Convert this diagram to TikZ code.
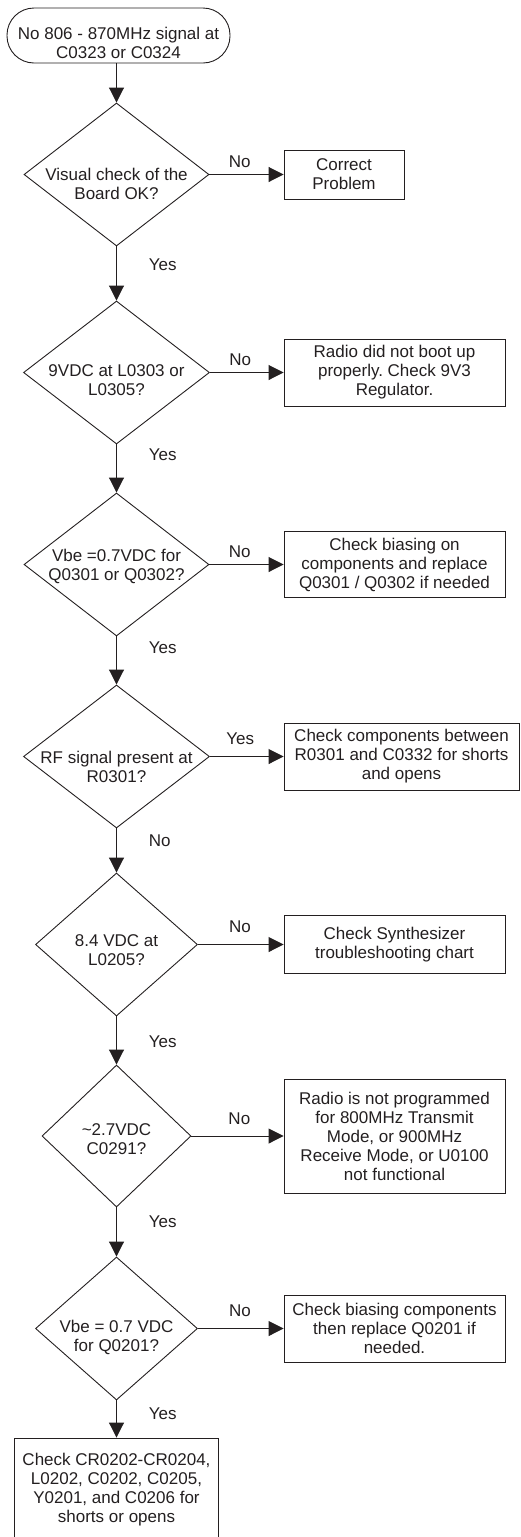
\documentclass[tikz,border=0pt]{standalone}
\usepackage{fontspec}
\setmainfont{Liberation Sans}
\usetikzlibrary{shapes.geometric,arrows.meta}
\definecolor{ink}{RGB}{35,31,32}
\newcommand{\dtx}[2]{\raisebox{#1}[0pt][0pt]{\makebox[0pt]{\begin{tabular}[b]{@{}c@{}}#2\end{tabular}}}}
\frenchspacing
\begin{document}
\begin{tikzpicture}[x=1pt,y=-1pt,
  font=\fontsize{17}{19}\selectfont\frenchspacing, text=ink,
  term/.style={rectangle, draw=ink, line width=0.9pt, rounded corners=27pt, inner sep=0pt},
  dia/.style={diamond, draw=ink, line width=0.9pt, inner sep=0pt, minimum height=143pt},
  box/.style={rectangle, draw=ink, line width=0.9pt, align=center, inner sep=2pt},
  arr/.style={draw=ink, line width=0.9pt, -{Triangle[length=15pt,width=15pt]}},
  hl/.style={anchor=base, inner sep=0pt},
  vl/.style={anchor=west, inner sep=0pt, xshift=32pt}]
\useasboundingbox (0,0) rectangle (520,1537);

\node[term, minimum width=223pt, minimum height=55pt] (start) at (118.5,35.5)
  {\dtx{-22.6pt}{No 806 - 870MHz signal at\\C0323 or C0324}};

\node[dia, minimum width=185pt] (d1) at (116.5,174.5) {\dtx{-25.1pt}{Visual check of the\\Board OK?}};
\node[box, minimum width=120pt, minimum height=49pt] (b1) at (344,174.5) {Correct\\Problem};

\node[dia, minimum width=186pt] (d2) at (116.5,372.5) {\dtx{-22.6pt}{9VDC at L0303 or\\L0305?}};
\node[box, minimum width=221pt, minimum height=67pt] (b2) at (394.5,372.5) {Radio did not boot up\\properly. Check 9V3\\Regulator.};

\node[dia, minimum width=185pt] (d3) at (116.5,564.5) {\dtx{-15.6pt}{Vbe =0.7VDC for\\Q0301 or Q0302?}};
\node[box, minimum width=221pt, minimum height=66pt] (b3) at (394.5,564.5) {Check biasing on\\components and replace\\Q0301 / Q0302 if needed};

\node[dia, minimum width=186pt] (d4) at (116.5,756.5) {\dtx{-25.6pt}{RF signal present at\\R0301?}};
\node[box, minimum width=235pt, minimum height=67pt] (b4) at (401.5,756.5) {Check components between\\R0301 and C0332 for shorts\\and opens};

\node[dia, minimum width=162pt] (d5) at (116.5,944.5) {\dtx{-20.6pt}{8.4 VDC at\\L0205?}};
\node[box, minimum width=221pt, minimum height=58pt] (b5) at (394.5,944.5) {Check Synthesizer\\troubleshooting chart};

\node[dia, minimum width=149pt, minimum height=142pt] (d6) at (116.5,1136) {\dtx{-18.6pt}{\textasciitilde 2.7VDC\\C0291?}};
\node[box, minimum width=221pt, minimum height=114pt] (b6) at (394.5,1136) {Radio is not programmed\\for 800MHz Transmit\\Mode, or 900MHz\\Receive Mode, or U0100\\not functional};

\node[dia, minimum width=162pt] (d7) at (116.5,1328.5) {\dtx{-22.6pt}{Vbe = 0.7 VDC\\for Q0201?}};
\node[box, minimum width=221pt, minimum height=67pt] (b7) at (394.5,1328.5) {Check biasing components\\then replace Q0201 if\\needed.};

\node[box, minimum width=204pt, minimum height=104pt] (fin) at (116.5,1490) {Check CR0202-CR0204,\\L0202, C0202, C0205,\\Y0201, and C0206 for\\shorts or opens};

\draw[arr] (d1.north |- start.south) -- (d1.north);
\draw[arr] (d1) -- node[hl, pos=0.41, yshift=7pt] {No} (b1);
\draw[arr] (d1) -- node[vl, pos=0.33] {Yes} (d2);
\draw[arr] (d2) -- node[hl, pos=0.41, yshift=7pt] {No} (b2);
\draw[arr] (d2) -- node[vl, pos=0.21] {Yes} (d3);
\draw[arr] (d3) -- node[hl, pos=0.41, yshift=7pt] {No} (b3);
\draw[arr] (d3) -- node[vl, pos=0.23] {Yes} (d4);
\draw[arr] (d4) -- node[hl, pos=0.41, yshift=12pt] {Yes} (b4);
\draw[arr] (d4) -- node[vl, pos=0.27] {No} (d5);
\draw[arr] (d5) -- node[hl, pos=0.49, yshift=12pt] {No} (b5);
\draw[arr] (d5) -- node[vl, pos=0.53] {Yes} (d6);
\draw[arr] (d6) -- node[hl, pos=0.52, yshift=12pt] {No} (b6);
\draw[arr] (d6) -- node[vl, pos=0.30] {Yes} (d7);
\draw[arr] (d7) -- node[hl, pos=0.49, yshift=12pt] {No} (b7);
\draw[arr] (d7) -- node[vl, pos=0.36] {Yes} (fin);
\end{tikzpicture}
\end{document}
